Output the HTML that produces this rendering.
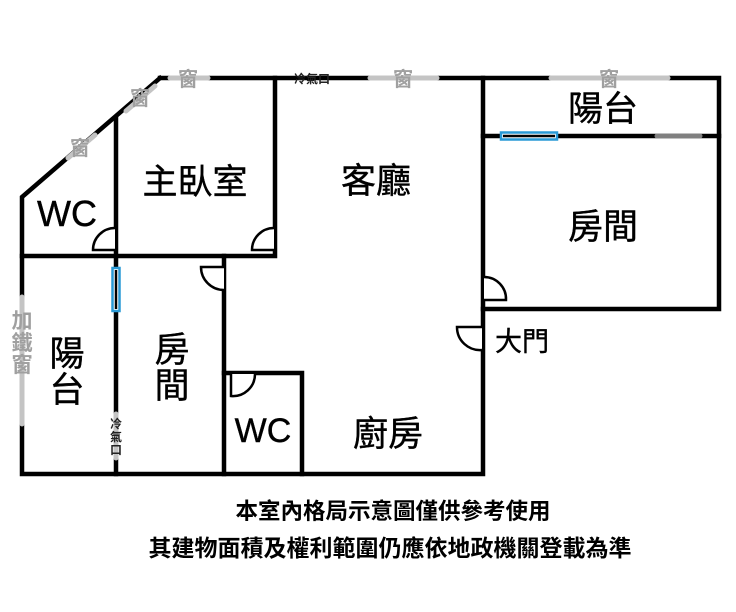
<!DOCTYPE html>
<html><head><meta charset="utf-8"><style>
html,body{margin:0;padding:0;background:#fff;width:736px;height:612px;overflow:hidden}
svg{display:block}
text{font-family:"Liberation Sans","Noto Sans CJK TC",sans-serif}
</style></head><body>
<svg width="736" height="612" viewBox="0 0 736 612" xmlns="http://www.w3.org/2000/svg">
<g stroke="#000" stroke-width="4.5" fill="none" stroke-linecap="square">
<path d="M160,78 L719,78 L719,309 L483,309"/>
<path d="M160,78 L22,197 L22,474 L483,474 L483,78"/>
<path d="M483,136 L719,136"/>
<path d="M116,118 L116,474"/>
<path d="M275,78 L275,256 L22,256"/>
<path d="M224,256 L224,474"/>
<path d="M224,373 L302,373 L302,474"/>
</g>
<g stroke="#c4c4c4" stroke-width="5" stroke-linecap="round">
<line x1="170" y1="78" x2="208" y2="78"/>
<line x1="370" y1="78" x2="437" y2="78"/>
<line x1="551" y1="78" x2="668" y2="78"/>
<line x1="126" y1="111" x2="155" y2="86"/>
<line x1="68" y1="158" x2="95" y2="135"/>
<line x1="22" y1="297" x2="22" y2="424"/>
<line x1="116" y1="414" x2="116" y2="458"/>
</g>
<line x1="657" y1="136" x2="700" y2="136" stroke="#808080" stroke-width="5" stroke-linecap="round"/>
<g fill="#fff" stroke="#2a9ad6" stroke-width="2.5"><rect x="112.5" y="268" width="7" height="43"/><rect x="501" y="132.5" width="56" height="7"/></g>
<line x1="116" y1="270" x2="116" y2="309" stroke="#000" stroke-width="2.5"/>
<line x1="503" y1="136" x2="555" y2="136" stroke="#000" stroke-width="2.5"/>
<g stroke="#000" stroke-width="2.5" fill="#fff">
<path d="M115,228 A22,22 0 0 0 93,250 L115,250"/>
<path d="M274,228 A22,22 0 0 0 252,250 L274,250"/>
<path d="M224,267 L201,267 A23,23 0 0 0 224,290"/>
<path d="M231,374 L231,396 A22,22 0 0 0 255,374"/>
<path d="M484,277 A22,22 0 0 1 506,300 L484,300"/>
<path d="M482,327 L457,327 A23,23 0 0 0 482,350"/>
</g>
<g fill="#a0a0a0" font-size="20" text-anchor="middle" font-weight="bold">
<text x="188" y="86">窗</text><text x="403" y="86">窗</text><text x="609" y="86">窗</text>
<text x="140" y="105">窗</text><text x="80" y="155">窗</text>
<text x="22" y="328" font-size="21">加</text><text x="22" y="350" font-size="21">鐵</text><text x="22" y="372" font-size="21">窗</text>
</g>
<g fill="#222" font-size="12" text-anchor="middle" font-weight="bold">
<text x="312" y="83">冷氣口</text>
<text x="116" y="428">冷</text><text x="116" y="441">氣</text><text x="116" y="454">口</text>
</g>
<g fill="#000" font-size="35" text-anchor="middle" stroke="#000" stroke-width="0.4">
<text x="195" y="194">主臥室</text>
<text x="376" y="193">客廳</text>
<text x="603" y="121">陽台</text>
<text x="603" y="239">房間</text>
<text x="67" y="226" font-size="36">WC</text>
<text x="67" y="366">陽</text><text x="67" y="402">台</text>
<text x="172" y="362">房</text><text x="172" y="398">間</text>
<text x="263" y="442" font-size="34">WC</text>
<text x="388" y="446">廚房</text>
<text x="522" y="351" font-size="27">大門</text>
</g>
<g fill="#000" text-anchor="middle" font-weight="bold">
<text x="393" y="519" font-size="22.5">本室內格局示意圖僅供參考使用</text>
<text x="390" y="556" font-size="23">其建物面積及權利範圍仍應依地政機關登載為準</text>
</g>
</svg>
</body></html>
